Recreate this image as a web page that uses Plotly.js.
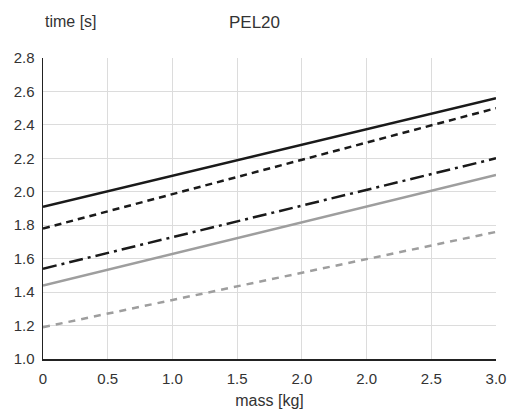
<!DOCTYPE html>
<html><head><meta charset="utf-8">
<script src="https://cdn.plot.ly/plotly-3.0.1.min.js"></script>
<style>body{margin:0;background:#fff}#c{width:509px;height:414px}</style>
</head><body><div id="c"></div>
<script>
const tickLabels = ["0","0.5","1.0","1.5","2.0","2.0","2.5","3.0"];
const tickPos = [0,1,2,3,4,5,6,7];
const xEnds = [0,7];
const blackSolid = [1.91, 2.56];
const blackDash = [1.78, 2.50];
const blackDashDot = [1.54, 2.20];
const graySolid = [1.44, 2.10];
const grayDash = [1.19, 1.76];

const mk = (y, color, dash) => ({x: xEnds, y: y, type:'scatter', mode:'lines',
  line:{color:color, width:2.5, dash:dash}, hoverinfo:'skip', showlegend:false});

const data = [
  mk(grayDash, '#9e9e9e', '7px,6px'),
  mk(graySolid, '#9e9e9e', 'solid'),
  mk(blackDashDot, '#1a1a1a', '14px,5px,3px,5px'),
  mk(blackDash, '#1a1a1a', '7px,5px'),
  mk(blackSolid, '#1a1a1a', 'solid')
];

const fam = '"Liberation Sans", Arial, sans-serif';
const layout = {
  width:509, height:414,
  margin:{l:43, r:13, t:58, b:55},
  paper_bgcolor:'#fff', plot_bgcolor:'#fff',
  font:{family:fam, size:15, color:'#333'},
  title:{text:'PEL20', x:0.5, xref:'container', y:0.947, yref:'container', yanchor:'middle', font:{family:fam, size:17, color:'#333'}},
  xaxis:{range:[0,7], tickvals:tickPos, ticktext:tickLabels, showgrid:true, gridcolor:'#dcdcdc', gridwidth:1,
    showline:true, linecolor:'#222', linewidth:1.5, zeroline:false, ticks:'outside', ticklen:5, tickcolor:'rgba(0,0,0,0)',
    tickfont:{family:fam, size:15, color:'#333'},
    title:{text:'mass [kg]', standoff:9, font:{family:fam, size:16, color:'#333'}}, fixedrange:true},
  yaxis:{range:[1.0,2.8], dtick:0.2, tick0:1.0, tickformat:'.1f', showgrid:true, gridcolor:'#dcdcdc', gridwidth:1,
    showline:true, linecolor:'#222', linewidth:1.5, zeroline:false, ticks:'outside', ticklen:4, tickcolor:'rgba(0,0,0,0)',
    tickfont:{family:fam, size:15, color:'#333'}, fixedrange:true},
  annotations:[{text:'time [s]', xref:'paper', yref:'paper', x:0, xanchor:'left', y:1.12, yanchor:'middle', showarrow:false,
    font:{family:fam, size:16, color:'#333'}}]
};
Plotly.newPlot('c', data, layout, {displayModeBar:false, staticPlot:true});
</script></body></html>
